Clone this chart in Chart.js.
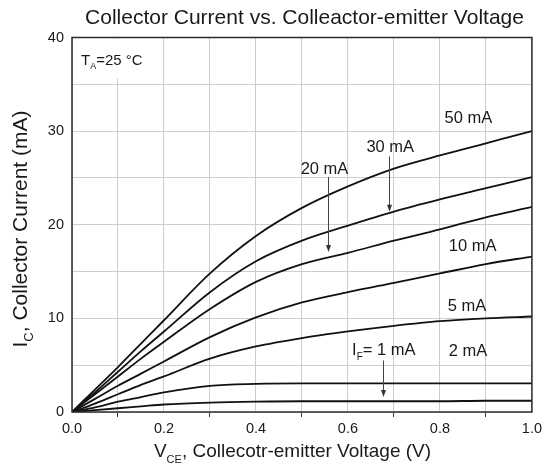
<!DOCTYPE html>
<html lang="en">
<head>
<meta charset="UTF-8">
<title>Collector Current vs. Colleactor-emitter Voltage</title>
<script src="https://cdn.jsdelivr.net/npm/chart.js@4/dist/chart.umd.min.js"></script>
<style>
    * { margin: 0; padding: 0; box-sizing: border-box; }
    body { background: #fff; }
    #wrap { width: 545px; height: 468px; }
</style>
</head>
<body>
<div id="wrap"><canvas id="chart" width="545" height="468"></canvas></div>
<script>
// V_CE sample points (V)
const vce = [0, 0.05, 0.1, 0.15, 0.2, 0.3, 0.4, 0.5, 0.6, 0.7, 0.8, 0.9, 1.0];

// Collector current (mA) for each forward current I_F
const ic50 = [0, 2.4, 4.8, 7.3, 9.8, 14.8, 18.8, 21.8, 24.1, 26.0, 27.4, 28.7, 30.0];
const ic30 = [0, 2.1, 4.3, 6.5, 8.6, 12.8, 16.1, 18.3, 19.9, 21.4, 22.7, 23.9, 25.1];
const ic20 = [0, 1.9, 3.8, 5.7, 7.5, 11.0, 13.9, 15.8, 17.0, 18.3, 19.5, 20.8, 21.9];
const ic10 = [0, 1.4, 2.8, 4.1, 5.4, 8.0, 10.1, 11.7, 12.8, 13.8, 14.8, 15.8, 16.6];
const ic5  = [0, 0.9, 1.9, 2.9, 3.8, 5.7, 7.0, 7.9, 8.6, 9.2, 9.7, 10.0, 10.2];
const ic2  = [0, 0.5, 1.1, 1.6, 2.1, 2.8, 3.0, 3.05, 3.05, 3.05, 3.05, 3.05, 3.05];
const ic1  = [0, 0.2, 0.4, 0.6, 0.8, 1.0, 1.1, 1.15, 1.15, 1.15, 1.15, 1.2, 1.2];

const seriesNames = ['50 mA', '30 mA', '20 mA', '10 mA', '5 mA', '2 mA', '1 mA'];
const seriesValues = [ic50, ic30, ic20, ic10, ic5, ic2, ic1];

// curve labels in data units: [text parts, x, y, align]
const curveLabels = [
    [[{t: '50 mA'}], 0.862, 31.4, 'center'],
    [[{t: '30 mA'}], 0.692, 28.3, 'center'],
    [[{t: '20 mA'}], 0.549, 25.95, 'center'],
    [[{t: '10 mA'}], 0.871, 17.65, 'center'],
    [[{t: '5 mA'}], 0.859, 11.25, 'center'],
    [[{t: 'I'}, {t: 'F', sub: true}, {t: '= 1 mA'}], 0.609, 6.6, 'left'],
    [[{t: '2 mA'}], 0.861, 6.44, 'center']
];
// arrows: x, y from, y to (data units)
const arrows = [
    [0.556, 25.1, 17.1],
    [0.690, 27.3, 21.4],
    [0.676, 5.5, 1.6]
];

const FONT = '"Liberation Sans", Arial, Helvetica, sans-serif';

function drawParts(ctx, parts, x, y, size, align) {
    const subSize = Math.round(size * 0.6);
    let total = 0;
    parts.forEach(p => {
        ctx.font = (p.sub ? subSize : size) + 'px ' + FONT;
        p.w = ctx.measureText(p.t).width;
        total += p.w;
    });
    let cx = align === 'center' ? x - total / 2 : x;
    ctx.textAlign = 'left';
    ctx.textBaseline = 'middle';
    parts.forEach(p => {
        ctx.font = (p.sub ? subSize : size) + 'px ' + FONT;
        ctx.fillText(p.t, cx, p.sub ? y + size * 0.4 : y);
        cx += p.w;
    });
}

const decorPlugin = {
    id: 'decor',
    beforeDatasetsDraw(chart) {
        const ctx = chart.ctx;
        const a = chart.chartArea;
        // white patch behind the temperature note
        ctx.save();
        ctx.fillStyle = '#fff';
        ctx.fillRect(a.left + 1, a.top + 1, 88, 40);
        ctx.restore();
    },
    afterDraw(chart) {
        const ctx = chart.ctx;
        const a = chart.chartArea;
        const xs = chart.scales.x;
        const ys = chart.scales.y;
        ctx.save();

        // plot frame
        ctx.strokeStyle = '#2b2b2b';
        ctx.lineWidth = 1.5;
        ctx.strokeRect(a.left, a.top, a.right - a.left, a.bottom - a.top);

        ctx.fillStyle = '#1a1a1a';
        // title
        drawParts(ctx, [{t: 'Collector Current vs. Colleactor-emitter Voltage'}], 304.5, 18, 21, 'center');
        // x axis title
        drawParts(ctx, [{t: 'V'}, {t: 'CE', sub: true}, {t: ', Collecotr-emitter Voltage (V)'}], 292.5, 452, 19, 'center');
        // y axis title
        ctx.save();
        ctx.translate(21, 229);
        ctx.rotate(-Math.PI / 2);
        drawParts(ctx, [{t: 'I'}, {t: 'C', sub: true}, {t: ', Collector Current (mA)'}], 0, 0, 21, 'center');
        ctx.restore();

        // temperature note
        drawParts(ctx, [{t: 'T'}, {t: 'A', sub: true}, {t: '=25 \u00B0C'}], a.left + 9, a.top + 23, 15, 'left');

        // curve labels
        curveLabels.forEach(l => {
            drawParts(ctx, l[0], xs.getPixelForValue(l[1]), ys.getPixelForValue(l[2]), 16.5, l[3]);
        });

        // arrows
        ctx.strokeStyle = '#444';
        ctx.fillStyle = '#333';
        ctx.lineWidth = 1;
        arrows.forEach(ar => {
            const x = Math.round(xs.getPixelForValue(ar[0])) + 0.5;
            const y0 = ys.getPixelForValue(ar[1]);
            const y1 = ys.getPixelForValue(ar[2]);
            ctx.beginPath();
            ctx.moveTo(x, y0);
            ctx.lineTo(x, y1 - 5);
            ctx.stroke();
            ctx.beginPath();
            ctx.moveTo(x - 2.5, y1 - 7);
            ctx.lineTo(x + 2.5, y1 - 7);
            ctx.lineTo(x, y1);
            ctx.closePath();
            ctx.fill();
        });
        ctx.restore();
    }
};

const datasets = seriesNames.map((name, i) => ({
    label: name,
    data: vce.map((v, j) => ({x: v, y: seriesValues[i][j]})),
    borderColor: '#111',
    borderWidth: 1.8,
    pointRadius: 0,
    fill: false,
    cubicInterpolationMode: 'monotone'
}));

new Chart(document.getElementById('chart').getContext('2d'), {
    type: 'line',
    data: { datasets: datasets },
    options: {
        responsive: false,
        animation: false,
        layout: { padding: { top: 37.5, right: 13, left: 0, bottom: 0 } },
        plugins: {
            legend: { display: false },
            title: { display: false },
            tooltip: { enabled: false }
        },
        scales: {
            x: {
                type: 'linear',
                min: 0,
                max: 1,
                afterFit(scale) { scale.height = 56; },
                border: { display: false },
                grid: {
                    color: '#cdcdcd',
                    lineWidth: 1,
                    tickLength: 5,
                    tickColor: c => (Math.round(c.tick.value * 10) % 2 === 1 ? '#333' : 'rgba(0,0,0,0)')
                },
                ticks: {
                    stepSize: 0.1,
                    autoSkip: false,
                    maxRotation: 0,
                    padding: 3,
                    color: '#1a1a1a',
                    font: { family: FONT, size: 14.5 },
                    callback: v => (Math.round(v * 10) % 2 === 0 ? v.toFixed(1) : '')
                }
            },
            y: {
                type: 'linear',
                min: 0,
                max: 40,
                afterFit(scale) { scale.width = 72; },
                border: { display: false },
                grid: { color: '#cdcdcd', lineWidth: 1, drawTicks: false },
                ticks: {
                    stepSize: 5,
                    padding: 8,
                    color: '#1a1a1a',
                    font: { family: FONT, size: 14.5 },
                    callback: v => (v % 10 === 0 ? v : '')
                }
            }
        }
    },
    plugins: [decorPlugin]
});
</script>
</body>
</html>
